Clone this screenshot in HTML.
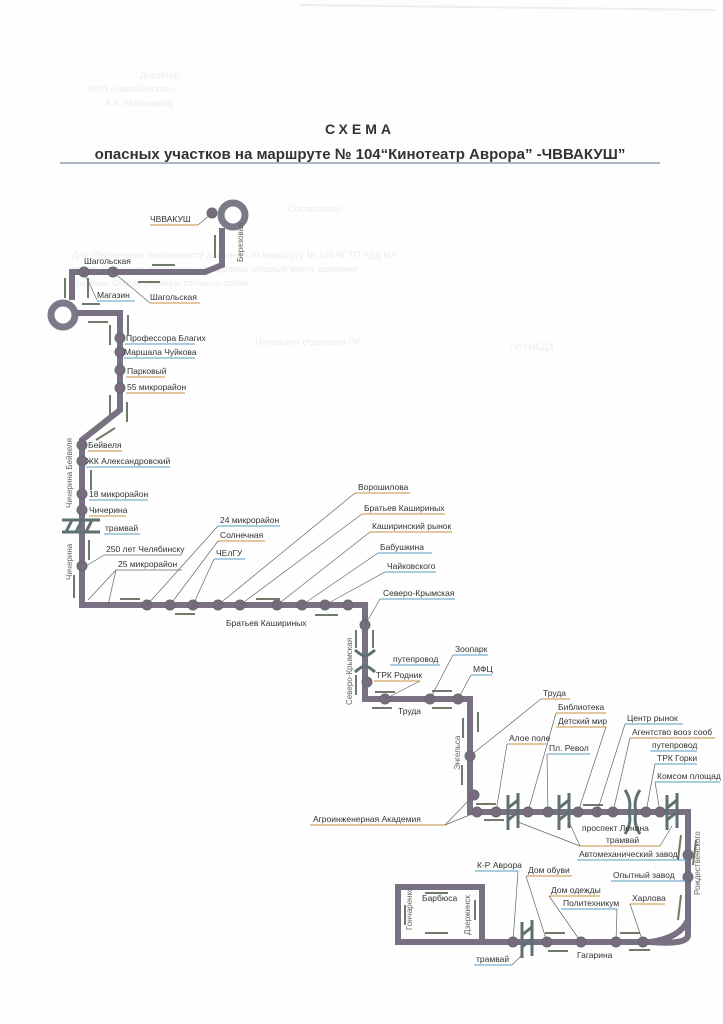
<!DOCTYPE html>
<html><head><meta charset="utf-8"><style>
html,body{margin:0;padding:0;background:#fff}
svg{display:block}
text{font-family:"Liberation Sans",sans-serif;fill:#333}
text.f{fill:#ececec;font-size:9px}
text.v{fill:#666;font-size:8px}
.l{font-size:8.5px}
.r{stroke:#7a7084;stroke-width:6;fill:none;stroke-linejoin:miter}
.d{fill:#7a6a7e;stroke:#5d6f70;stroke-width:1}
.ld{stroke:#666;stroke-width:0.7;fill:none}
.u{stroke:#c89040;stroke-width:1}
.ub{stroke:#5a9ac0;stroke-width:1}
.a{stroke:#6f7a6a;stroke-width:2}
</style></head><body>
<svg width="723" height="1024" viewBox="0 0 723 1024" xmlns="http://www.w3.org/2000/svg">
<rect width="723" height="1024" fill="#fefefe"/>
<text class="f" x="140" y="78">Директор</text>
<text class="f" x="88" y="92">МУП «Челябинское»</text>
<text class="f" x="105" y="106">А.А. Малышкову</text>
<text class="f" x="288" y="212">Согласовано</text>
<text class="f" x="72" y="258">Для обеспечения безопасности движения по маршруту № 104 ЧГ ГП УДД МЛ</text>
<text class="f" x="72" y="272">просп. Ленина по маршрутам определены опасные места движения</text>
<text class="f" x="72" y="286">трамвая. Общие размеры согласно схеме</text>
<text class="f" x="255" y="345">Начальник отделения ГИ</text>
<text class="f" x="510" y="350">ГИ ГИБДД</text>
<line x1="300" y1="5" x2="715" y2="10" stroke="#eee" stroke-width="2"/>
<!-- title -->
<text x="360" y="134" text-anchor="middle" font-size="14" font-weight="bold" letter-spacing="4">СХЕМА</text>
<text x="360" y="159" text-anchor="middle" font-size="15" font-weight="bold" fill="#333">опасных участков на маршруте № 104“Кинотеатр Аврора” -ЧВВАКУШ”</text>
<line x1="60" y1="163" x2="660" y2="163" stroke="#7a8aa0" stroke-width="1.2"/>

<!-- route -->
<circle cx="233" cy="215" r="12" fill="none" stroke="#7c7a88" stroke-width="7"/>
<path class="r" d="M222 228 L222 265 L205 272 L72 272 L72 300"/>
<circle cx="63" cy="315" r="12" fill="none" stroke="#7c7a88" stroke-width="7"/>
<path class="r" d="M76 313 L120 313 L120 410 L82 440 L82 605 L365 605 L365 699 L470 699 L470 812 L688 812 L688 935 Q688 945 650 942 L398 942 L398 887 L482 887 L482 942"/>
<path class="r" d="M688 920 Q680 938 650 942" stroke-width="4"/>

<!-- tram crossings -->
<g fill="none" stroke="#5e7070" stroke-width="3">
<path d="M62 520 L100 520 M62 532 L100 532 M66 532 L72 520 M76 532 L82 520 M86 532 L92 520"/>
<path d="M508 795 L508 830 M518 793 L518 828 M508 808 L518 800 M508 820 L518 812"/>
<path d="M559 795 L559 830 M569 793 L569 828 M559 808 L569 800 M559 820 L569 812"/>
<path d="M667 795 L667 830 M677 793 L677 828 M667 808 L677 800 M667 820 L677 812"/>
<path d="M522 922 L522 958 M532 920 L532 956 M522 935 L532 927 M522 947 L532 939"/>
<path d="M625 790 Q632 800 629 812 Q632 824 625 834 M640 790 Q633 800 636 812 Q633 824 640 834"/>
<path d="M355 650 Q362 656 365 656 Q368 656 375 650 M355 672 Q362 666 365 666 Q368 666 375 672"/>
</g>

<!-- stops -->
<g class="d">
<circle cx="212" cy="213" r="5"/>
<circle cx="84" cy="272" r="5"/><circle cx="113" cy="272" r="5"/>
<circle cx="120" cy="338" r="5"/><circle cx="120" cy="352" r="5"/><circle cx="120" cy="370" r="5"/><circle cx="120" cy="388" r="5"/>
<circle cx="82" cy="445" r="5"/><circle cx="82" cy="461" r="5"/><circle cx="82" cy="494" r="5"/><circle cx="82" cy="510" r="5"/><circle cx="82" cy="566" r="5"/>
<circle cx="147" cy="605" r="5"/><circle cx="170" cy="605" r="5"/><circle cx="193" cy="605" r="5"/><circle cx="218" cy="605" r="5"/><circle cx="240" cy="605" r="5"/><circle cx="277" cy="605" r="5"/><circle cx="302" cy="605" r="5"/><circle cx="325" cy="605" r="5"/><circle cx="348" cy="605" r="5"/>
<circle cx="365" cy="625" r="5"/><circle cx="367" cy="682" r="5"/>
<circle cx="385" cy="699" r="5"/><circle cx="430" cy="699" r="5"/><circle cx="458" cy="699" r="5"/>
<circle cx="470" cy="756" r="5"/><circle cx="474" cy="795" r="5"/>
<circle cx="477" cy="812" r="5"/><circle cx="496" cy="812" r="5"/><circle cx="528" cy="812" r="5"/><circle cx="548" cy="812" r="5"/><circle cx="578" cy="812" r="5"/><circle cx="597" cy="812" r="5"/><circle cx="613" cy="812" r="5"/><circle cx="646" cy="812" r="5"/><circle cx="660" cy="812" r="5"/>
<circle cx="688" cy="855" r="5"/><circle cx="688" cy="877" r="5"/>
<circle cx="513" cy="942" r="5"/><circle cx="547" cy="942" r="5"/><circle cx="581" cy="942" r="5"/><circle cx="616" cy="942" r="5"/><circle cx="643" cy="942" r="5"/>
</g>

<!-- direction arrows -->
<g class="a">
<line x1="215" y1="235" x2="215" y2="258"/><line x1="152" y1="265" x2="175" y2="265"/><line x1="138" y1="282" x2="160" y2="282"/>
<line x1="65" y1="278" x2="65" y2="298"/><line x1="88" y1="278" x2="88" y2="298"/><line x1="82" y1="304" x2="100" y2="304"/><line x1="88" y1="322" x2="108" y2="322"/>
<line x1="110" y1="325" x2="110" y2="345"/><line x1="128" y1="315" x2="128" y2="335"/><line x1="110" y1="395" x2="110" y2="415"/><line x1="127" y1="402" x2="127" y2="422"/>
<line x1="88" y1="433" x2="105" y2="423"/><line x1="96" y1="440" x2="115" y2="428"/>
<line x1="91" y1="470" x2="91" y2="490"/><line x1="89" y1="540" x2="89" y2="560"/><line x1="74" y1="575" x2="74" y2="598"/>
<line x1="120" y1="599" x2="140" y2="599"/><line x1="175" y1="614" x2="195" y2="614"/><line x1="256" y1="599" x2="280" y2="599"/><line x1="315" y1="615" x2="338" y2="615"/>
<line x1="356" y1="630" x2="356" y2="648"/><line x1="373" y1="630" x2="373" y2="648"/><line x1="356" y1="675" x2="356" y2="695"/>
<line x1="375" y1="692" x2="395" y2="692"/><line x1="372" y1="708" x2="392" y2="708"/><line x1="432" y1="691" x2="452" y2="691"/><line x1="432" y1="708" x2="452" y2="708"/>
<line x1="463" y1="718" x2="463" y2="738"/><line x1="478" y1="712" x2="478" y2="732"/><line x1="462" y1="765" x2="462" y2="785"/>
<line x1="476" y1="804" x2="496" y2="804"/><line x1="484" y1="820" x2="504" y2="820"/><line x1="583" y1="805" x2="603" y2="805"/>
<line x1="681" y1="835" x2="678" y2="860"/><line x1="696" y1="840" x2="693" y2="865"/><line x1="681" y1="895" x2="678" y2="920"/>
<line x1="620" y1="933" x2="640" y2="933"/><line x1="629" y1="950" x2="650" y2="950"/><line x1="545" y1="933" x2="565" y2="933"/><line x1="548" y1="951" x2="568" y2="951"/>
<line x1="405" y1="905" x2="405" y2="925"/><line x1="475" y1="900" x2="475" y2="920"/><line x1="425" y1="933" x2="448" y2="933"/><line x1="425" y1="893" x2="448" y2="893"/>
</g>

<!-- vertical street labels -->
<text class="v" transform="translate(243,262) rotate(-90)">Березовая</text>
<text class="v" transform="translate(72,508) rotate(-90)">Чичерина  Бейвеля</text>
<text class="v" transform="translate(72,580) rotate(-90)">Чичерина</text>
<text class="v" transform="translate(352,705) rotate(-90)">Северо-Крымская</text>
<text class="v" transform="translate(460,770) rotate(-90)">Энгельса</text>
<text class="v" transform="translate(700,895) rotate(-90)">Рождественского</text>
<text class="v" transform="translate(412,930) rotate(-90)">Гончаренко</text>
<text class="v" transform="translate(470,935) rotate(-90)">Дзержинск</text>

<!-- labels -->
<g class="l">
<text x="150" y="222">ЧВВАКУШ</text><line class="u" x1="150" y1="225" x2="198" y2="225"/><line class="ld" x1="198" y1="225" x2="212" y2="213"/>
<text x="84" y="264">Шагольская</text>
<text x="97" y="298">Магазин</text><line class="ld" x1="84" y1="272" x2="97" y2="300"/><line class="ub" x1="97" y1="301" x2="135" y2="301"/>
<text x="150" y="300">Шагольская</text><line class="ld" x1="113" y1="272" x2="150" y2="303"/><line class="u" x1="150" y1="303" x2="200" y2="303"/>
<text x="126" y="341">Профессора Благих</text><line class="ub" x1="125" y1="344" x2="195" y2="344"/>
<text x="124" y="355">Маршала Чуйкова</text><line class="ub" x1="124" y1="358" x2="195" y2="358"/>
<text x="127" y="374">Парковый</text><line class="u" x1="126" y1="377" x2="165" y2="377"/>
<text x="127" y="390">55 микрорайон</text><line class="u" x1="126" y1="393" x2="185" y2="393"/>
<text x="88" y="448">Бейвеля</text><line class="u" x1="88" y1="451" x2="122" y2="451"/>
<text x="86" y="464">ЖК Александровский</text><line class="ub" x1="86" y1="467" x2="170" y2="467"/>
<text x="89" y="497">18 микрорайон</text><line class="ub" x1="89" y1="500" x2="148" y2="500"/>
<text x="89" y="513">Чичерина</text><line class="u" x1="89" y1="516" x2="126" y2="516"/>
<text x="105" y="531">трамвай</text><line class="ub" x1="104" y1="534" x2="140" y2="534"/>
<text x="106" y="552">250 лет Челябинску</text><line class="ld" x1="86" y1="566" x2="104" y2="555"/><line class="ld" x1="104" y1="555" x2="182" y2="555"/>
<text x="118" y="567">25 микрорайон</text><line class="ld" x1="116" y1="570" x2="182" y2="570"/><line class="ld" x1="116" y1="570" x2="88" y2="600"/><line class="ld" x1="116" y1="570" x2="108" y2="605"/>
<text x="220" y="523">24 микрорайон</text><line class="ub" x1="218" y1="526" x2="280" y2="526"/><line class="ld" x1="218" y1="526" x2="147" y2="605"/>
<text x="220" y="538">Солнечная</text><line class="u" x1="218" y1="541" x2="265" y2="541"/><line class="ld" x1="218" y1="541" x2="170" y2="605"/>
<text x="216" y="556">ЧЕлГУ</text><line class="ub" x1="214" y1="559" x2="245" y2="559"/><line class="ld" x1="214" y1="559" x2="193" y2="605"/>
<text x="358" y="490">Ворошилова</text><line class="u" x1="355" y1="493" x2="410" y2="493"/><line class="ld" x1="355" y1="493" x2="218" y2="605"/>
<text x="364" y="511">Братьев Кашириных</text><line class="u" x1="362" y1="514" x2="445" y2="514"/><line class="ld" x1="362" y1="514" x2="240" y2="605"/>
<text x="372" y="529">Каширинский рынок</text><line class="u" x1="370" y1="532" x2="452" y2="532"/><line class="ld" x1="370" y1="532" x2="277" y2="605"/>
<text x="380" y="550">Бабушкина</text><line class="ub" x1="378" y1="553" x2="432" y2="553"/><line class="ld" x1="378" y1="553" x2="302" y2="605"/>
<text x="387" y="569">Чайковского</text><line class="ub" x1="385" y1="572" x2="436" y2="572"/><line class="ld" x1="385" y1="572" x2="325" y2="605"/>
<text x="383" y="596">Северо-Крымская</text><line class="ub" x1="380" y1="599" x2="455" y2="599"/><line class="ld" x1="380" y1="599" x2="365" y2="625"/>
<text x="226" y="626">Братьев Кашириных</text>
<text x="393" y="662">путепровод</text><line class="ub" x1="390" y1="665" x2="440" y2="665"/>
<text x="376" y="678">ТРК Родник</text><line class="u" x1="374" y1="681" x2="420" y2="681"/><line class="ld" x1="420" y1="681" x2="385" y2="699"/>
<text x="398" y="714">Труда</text>
<text x="455" y="652">Зоопарк</text><line class="ub" x1="453" y1="655" x2="488" y2="655"/><line class="ld" x1="453" y1="655" x2="430" y2="699"/>
<text x="473" y="672">МФЦ</text><line class="ub" x1="471" y1="675" x2="492" y2="675"/><line class="ld" x1="471" y1="675" x2="458" y2="699"/>
<text x="543" y="696">Труда</text><line class="u" x1="541" y1="699" x2="570" y2="699"/><line class="ld" x1="541" y1="699" x2="470" y2="756"/>
<text x="558" y="710">Библиотека</text><line class="u" x1="556" y1="713" x2="606" y2="713"/><line class="ld" x1="556" y1="713" x2="528" y2="812"/>
<text x="558" y="724">Детский мир</text><line class="u" x1="556" y1="727" x2="606" y2="727"/><line class="ld" x1="606" y1="727" x2="578" y2="812"/>
<text x="509" y="741">Алое поле</text><line class="u" x1="507" y1="744" x2="547" y2="744"/><line class="ld" x1="507" y1="744" x2="496" y2="812"/>
<text x="549" y="751">Пл. Револ</text><line class="ub" x1="547" y1="754" x2="590" y2="754"/><line class="ld" x1="547" y1="754" x2="548" y2="812"/>
<text x="627" y="721">Центр рынок</text><line class="ub" x1="625" y1="724" x2="683" y2="724"/><line class="ld" x1="625" y1="724" x2="597" y2="812"/>
<text x="632" y="735">Агентство вооз сооб</text><line class="u" x1="630" y1="738" x2="715" y2="738"/><line class="ld" x1="630" y1="738" x2="613" y2="812"/>
<text x="652" y="748">путепровод</text><line class="ub" x1="650" y1="751" x2="697" y2="751"/>
<text x="657" y="761">ТРК Горки</text><line class="ub" x1="655" y1="764" x2="697" y2="764"/><line class="ld" x1="655" y1="764" x2="646" y2="812"/>
<text x="657" y="779">Комсом площад</text><line class="ub" x1="655" y1="782" x2="720" y2="782"/><line class="ld" x1="655" y1="782" x2="660" y2="812"/>
<text x="313" y="822">Агроинженерная Академия</text><line class="u" x1="310" y1="825" x2="445" y2="825"/><line class="ld" x1="445" y1="825" x2="474" y2="795"/><line class="ld" x1="445" y1="825" x2="477" y2="812"/>
<text x="582" y="831">проспект Ленина</text>
<text x="606" y="843">трамвай</text><line class="u" x1="580" y1="846" x2="660" y2="846"/><line class="ld" x1="580" y1="846" x2="518" y2="822"/><line class="ld" x1="580" y1="846" x2="569" y2="822"/><line class="ld" x1="660" y1="846" x2="672" y2="826"/>
<text x="579" y="857">Автомеханический завод</text><line class="ub" x1="577" y1="860" x2="688" y2="860"/>
<text x="613" y="878">Опытный завод</text><line class="ub" x1="611" y1="881" x2="686" y2="881"/>
<text x="632" y="901">Харлова</text><line class="u" x1="630" y1="904" x2="665" y2="904"/><line class="ld" x1="630" y1="904" x2="643" y2="942"/>
<text x="477" y="868">К-Р Аврора</text><line class="ub" x1="475" y1="871" x2="518" y2="871"/><line class="ld" x1="518" y1="871" x2="513" y2="942"/>
<text x="528" y="873">Дом обуви</text><line class="u" x1="526" y1="876" x2="572" y2="876"/><line class="ld" x1="526" y1="876" x2="547" y2="942"/>
<text x="551" y="893">Дом одежды</text><line class="u" x1="549" y1="896" x2="600" y2="896"/><line class="ld" x1="549" y1="896" x2="581" y2="942"/>
<text x="563" y="906">Политехникум</text><line class="ub" x1="561" y1="909" x2="617" y2="909"/><line class="ld" x1="617" y1="909" x2="616" y2="942"/>
<text x="422" y="901">Барбюса</text>
<text x="476" y="962">трамвай</text><line class="ub" x1="474" y1="965" x2="512" y2="965"/><line class="ld" x1="512" y1="965" x2="522" y2="955"/>
<text x="577" y="958">Гагарина</text>
</g>
</svg>
</body></html>
